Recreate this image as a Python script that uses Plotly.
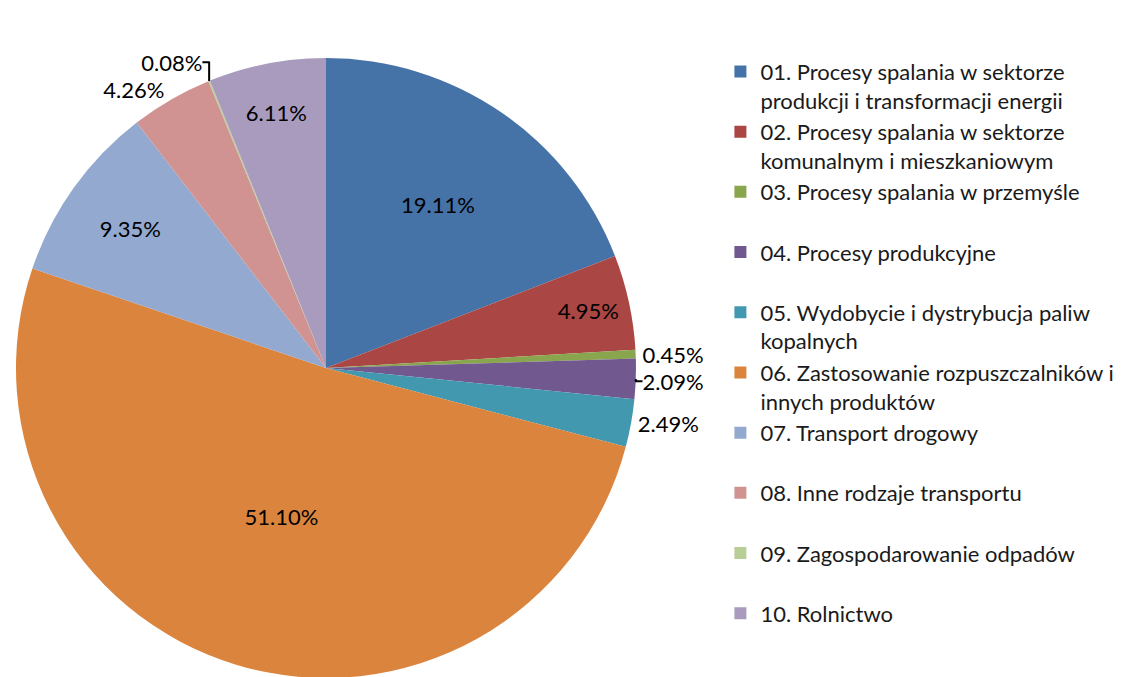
import plotly.graph_objects as go

categories = [
    "01. Procesy spalania w sektorze<br>produkcji i transformacji energii",
    "02. Procesy spalania w sektorze<br>komunalnym i mieszkaniowym",
    "03. Procesy spalania w przemyśle",
    "04. Procesy produkcyjne",
    "05. Wydobycie i dystrybucja paliw<br>kopalnych",
    "06. Zastosowanie rozpuszczalników i<br>innych produktów",
    "07. Transport drogowy",
    "08. Inne rodzaje transportu",
    "09. Zagospodarowanie odpadów",
    "10. Rolnictwo",
]
values = [19.11, 4.95, 0.45, 2.09, 2.49, 51.10, 9.35, 4.26, 0.08, 6.11]
colors = ["#4572A7", "#AA4643", "#89A54E", "#71588F", "#4198AF",
          "#DB843D", "#93A9CF", "#D19392", "#B9CD96", "#A99BBD"]

legend_labels = [c if "<br>" in c else c + "<br> " for c in categories]
positions = ["inside" if v > 5.5 or v == 4.95 else "outside" for v in values]

fig = go.Figure(go.Pie(
    labels=legend_labels,
    values=values,
    sort=False,
    direction="clockwise",
    rotation=0,
    marker=dict(colors=colors, line=dict(width=0)),
    texttemplate="%{value:.2f}%",
    textposition=positions,
    insidetextorientation="horizontal",
    textfont=dict(family="Lato", size=22, color="#000000"),
    outsidetextfont=dict(family="Lato", size=22, color="#000000"),
    domain=dict(x=[0.0062, 0.5571], y=[0.0103, 0.9261]),
    hoverinfo="label+percent",
))

fig.update_layout(
    width=1129, height=677,
    margin=dict(l=0, r=0, t=0, b=0),
    paper_bgcolor="white",
    font=dict(family="Lato", size=22, color="#000000"),
    legend=dict(x=0.631, y=0.937, xanchor="left", yanchor="top",
                valign="top", font=dict(size=22, color="#1a1a1a"), itemwidth=30),
)

fig.write_html("out.html")
